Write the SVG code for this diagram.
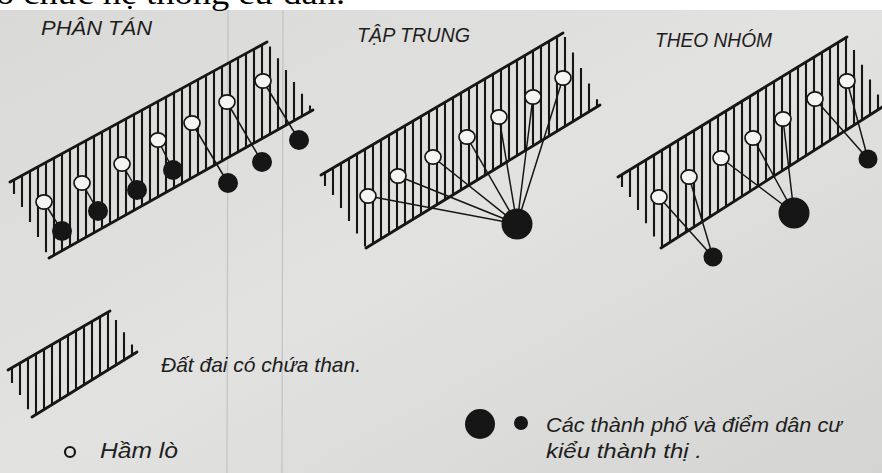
<svg xmlns="http://www.w3.org/2000/svg" width="882" height="473" viewBox="0 0 882 473">
<style>
.edge{stroke:#161616;stroke-width:2.8;stroke-linecap:round;fill:none}
.hatch{stroke:#161616;stroke-width:2.1;fill:none}
.con{stroke:#161616;stroke-width:1.5;fill:none}
.open{fill:#f4f4f2;stroke:#161616;stroke-width:1.7}
.fill{fill:#161616}
.lbl{font-family:"Liberation Sans","DejaVu Sans",sans-serif;font-style:italic;fill:#1e1e1e}
.faint{stroke:#c2c2c0;stroke-width:1.2;fill:none}
</style>
<defs>
<linearGradient id="bg" x1="0" y1="0" x2="1" y2="1">
<stop offset="0" stop-color="#d9d9d7"/>
<stop offset="0.5" stop-color="#e2e2e0"/>
<stop offset="1" stop-color="#d4d4d2"/>
</linearGradient>
</defs>
<rect x="0" y="0" width="882" height="473" fill="url(#bg)"/>
<rect x="0" y="0" width="882" height="10" fill="#ffffff"/>
<text x="-4" y="4" font-family="'Liberation Serif','DejaVu Serif',serif" font-size="31" fill="#000" textLength="349" lengthAdjust="spacingAndGlyphs">ổ chức hệ thống cư dân.</text>
<g id="background-marks">
<line class="faint" x1="228" y1="10" x2="227" y2="473"/>
<line class="faint" x1="283" y1="10" x2="282" y2="473"/>
</g>

<g id="title-phan-tan"><text class="lbl" x="41" y="35" font-size="21" textLength="111" lengthAdjust="spacingAndGlyphs">PHÂN TÁN</text></g>
<g id="title-tap-trung"><text class="lbl" x="357" y="42" font-size="21" textLength="113" lengthAdjust="spacingAndGlyphs">TẬP TRUNG</text></g>
<g id="title-theo-nhom"><text class="lbl" x="655" y="47" font-size="21" textLength="117" lengthAdjust="spacingAndGlyphs">THEO NHÓM</text></g>

<g id="band-phan-tan">
<path class="hatch" d="M14 179.8V194M22 175.5V207M30 171.1V222M38 166.7V237M46 162.4V252.2M54 158V255.2M62 153.6V250.7M70 149.3V246.2M78 144.9V241.7M86 140.6V237.3M94 136.2V232.8M102 131.8V228.3M110 127.5V223.8M118 123.1V219.3M126 118.8V214.8M134 114.4V210.3M142 110.1V205.8M150 105.7V201.4M158 101.4V196.9M166 97V192.4M174 92.6V187.9M182 88.3V183.4M190 83.9V178.9M198 79.6V174.4M206 75.2V170M214 70.9V165.5M222 66.5V161M230 62.2V156.5M238 57.8V152M246 53.4V147.5M254 49.1V143M262 44.7V138.5M270 46.4V134.1M278 58.3V129.6M286 70.1V125.1M294 81.9V120.6M302 93.7V116.1M310 105.6V111.6"/>
<path class="edge" d="M10 182L267 42M49 258L313 110"/>
</g>
<g id="band-tap-trung">
<path class="hatch" d="M325 172.7V186M333 168V195M341 163.3V208M349 158.6V221M357 153.9V233.4M365 149.2V246.4M373 144.5V243.7M381 139.8V238.8M389 135.1V233.9M397 130.4V229.1M405 125.7V224.2M413 121V219.3M421 116.3V214.4M429 111.6V209.5M437 106.9V204.6M445 102.2V199.7M453 97.5V194.8M461 92.8V189.9M469 88.2V185.1M477 83.5V180.2M485 78.8V175.3M493 74.1V170.4M501 69.4V165.5M509 64.7V160.6M517 60V155.7M525 55.3V150.8M533 50.6V145.9M541 45.9V141M549 41.2V136.1M557 36.5V131.3M565 36.9V126.4M573 52.5V121.5M581 68V116.6M589 83.6V111.7M597 99.2V106.8"/>
<path class="edge" d="M321 175L563 33M366 248L600 105"/>
</g>
<g id="band-theo-nhom">
<path class="hatch" d="M622 174.6V187M630 169.7V197M638 164.8V210M646 159.9V223.2M654 155V236.4M662 150.1V247.4M670 145.2V242.3M678 140.3V237.2M686 135.4V232.1M694 130.5V226.9M702 125.6V221.8M710 120.7V216.7M718 115.8V211.6M726 110.9V206.5M734 106V201.4M742 101.2V196.3M750 96.3V191.2M758 91.4V186.1M766 86.5V181M774 81.6V175.9M782 76.7V170.7M790 71.8V165.7M798 66.9V160.5M806 62V155.4M814 57.1V150.3M822 52.2V145.2M830 47.3V140.1M838 42.4V135M846 37.5V129.9M854 50V124.8M862 64.8V119.8M870 79.6V114.7M878 94.4V109.6"/>
<path class="edge" d="M618 177L847 37M661 248L884 106"/>
</g>

<g id="connectors">
<path class="con" d="M44 202L62 231M82 183L98 211M122 164L137 190M158 140L173 170M192 123L228 183M227 102L262 162M263 81L299 140"/>
<path class="con" d="M368 196L517 224M398 176L517 224M433 157L517 224M467 137L517 224M499 117L517 224M533 97L517 224M563 78L517 224"/>
<path class="con" d="M659 197L713 257M689 177L713 257M721 158L794 213M753 138L794 213M783 119L794 213M815 99L868 159M847 81L868 159"/>
</g>

<g id="fill-pt-1"><circle class="fill" cx="62" cy="231" r="10"/></g>
<g id="fill-pt-2"><circle class="fill" cx="98" cy="211" r="10"/></g>
<g id="fill-pt-3"><circle class="fill" cx="137" cy="190" r="10"/></g>
<g id="fill-pt-4"><circle class="fill" cx="173" cy="170" r="10"/></g>
<g id="fill-pt-5"><circle class="fill" cx="228" cy="183" r="10"/></g>
<g id="fill-pt-6"><circle class="fill" cx="262" cy="162" r="10"/></g>
<g id="fill-pt-7"><circle class="fill" cx="299" cy="140" r="10"/></g>
<g id="mine-pt-1"><ellipse class="open" cx="44" cy="202" rx="8" ry="7.2"/></g>
<g id="mine-pt-2"><ellipse class="open" cx="82" cy="183" rx="8" ry="7.2"/></g>
<g id="mine-pt-3"><ellipse class="open" cx="122" cy="164" rx="8" ry="7.2"/></g>
<g id="mine-pt-4"><ellipse class="open" cx="158" cy="140" rx="8" ry="7.2"/></g>
<g id="mine-pt-5"><ellipse class="open" cx="192" cy="123" rx="8" ry="7.2"/></g>
<g id="mine-pt-6"><ellipse class="open" cx="227" cy="102" rx="8" ry="7.2"/></g>
<g id="mine-pt-7"><ellipse class="open" cx="263" cy="81" rx="8" ry="7.2"/></g>

<g id="city-tt"><circle class="fill" cx="517" cy="224" r="15.5"/></g>
<g id="mine-tt-1"><ellipse class="open" cx="368" cy="196" rx="8" ry="7.2"/></g>
<g id="mine-tt-2"><ellipse class="open" cx="398" cy="176" rx="8" ry="7.2"/></g>
<g id="mine-tt-3"><ellipse class="open" cx="433" cy="157" rx="8" ry="7.2"/></g>
<g id="mine-tt-4"><ellipse class="open" cx="467" cy="137" rx="8" ry="7.2"/></g>
<g id="mine-tt-5"><ellipse class="open" cx="499" cy="117" rx="8" ry="7.2"/></g>
<g id="mine-tt-6"><ellipse class="open" cx="533" cy="97" rx="8" ry="7.2"/></g>
<g id="mine-tt-7"><ellipse class="open" cx="563" cy="78" rx="8" ry="7.2"/></g>

<g id="city-tn-1"><circle class="fill" cx="713" cy="257" r="9.5"/></g>
<g id="city-tn-2"><circle class="fill" cx="794" cy="213" r="15.5"/></g>
<g id="city-tn-3"><circle class="fill" cx="868" cy="159" r="9.5"/></g>
<g id="mine-tn-1"><ellipse class="open" cx="659" cy="197" rx="8" ry="7.2"/></g>
<g id="mine-tn-2"><ellipse class="open" cx="689" cy="177" rx="8" ry="7.2"/></g>
<g id="mine-tn-3"><ellipse class="open" cx="721" cy="158" rx="8" ry="7.2"/></g>
<g id="mine-tn-4"><ellipse class="open" cx="753" cy="138" rx="8" ry="7.2"/></g>
<g id="mine-tn-5"><ellipse class="open" cx="783" cy="119" rx="8" ry="7.2"/></g>
<g id="mine-tn-6"><ellipse class="open" cx="815" cy="99" rx="8" ry="7.2"/></g>
<g id="mine-tn-7"><ellipse class="open" cx="847" cy="81" rx="8" ry="7.2"/></g>

<g id="legend-coal">
<path class="hatch" d="M12 367.7V383M20 363.1V395M28 358.4V409.2M36 353.8V414.5M44 349.2V409.6M52 344.6V404.6M60 340V399.7M68 335.3V394.7M76 330.7V389.8M84 326.1V384.8M92 321.4V379.9M100 316.8V374.9M108 312.2V370M116 320.1V365M124 332.3V360.1M132 344.4V355.1"/>
<path class="edge" d="M8 370L110 311M32 417L137 352"/>
<text class="lbl" x="161" y="372" font-size="21" textLength="200" lengthAdjust="spacingAndGlyphs">Đất đai có chứa than.</text>
</g>
<g id="legend-mine">
<circle cx="70" cy="452" r="5" fill="none" stroke="#161616" stroke-width="2.2"/>
<text class="lbl" x="100" y="458" font-size="22" textLength="78" lengthAdjust="spacingAndGlyphs">Hầm lò</text>
</g>
<g id="legend-city">
<circle class="fill" cx="480" cy="424" r="15"/>
<circle class="fill" cx="521" cy="423" r="7"/>
<text class="lbl" x="546" y="432" font-size="21" textLength="296" lengthAdjust="spacingAndGlyphs">Các thành phố và điểm dân cư</text>
<text class="lbl" x="546" y="458" font-size="21" textLength="156" lengthAdjust="spacingAndGlyphs">kiểu thành thị .</text>
</g>
</svg>
